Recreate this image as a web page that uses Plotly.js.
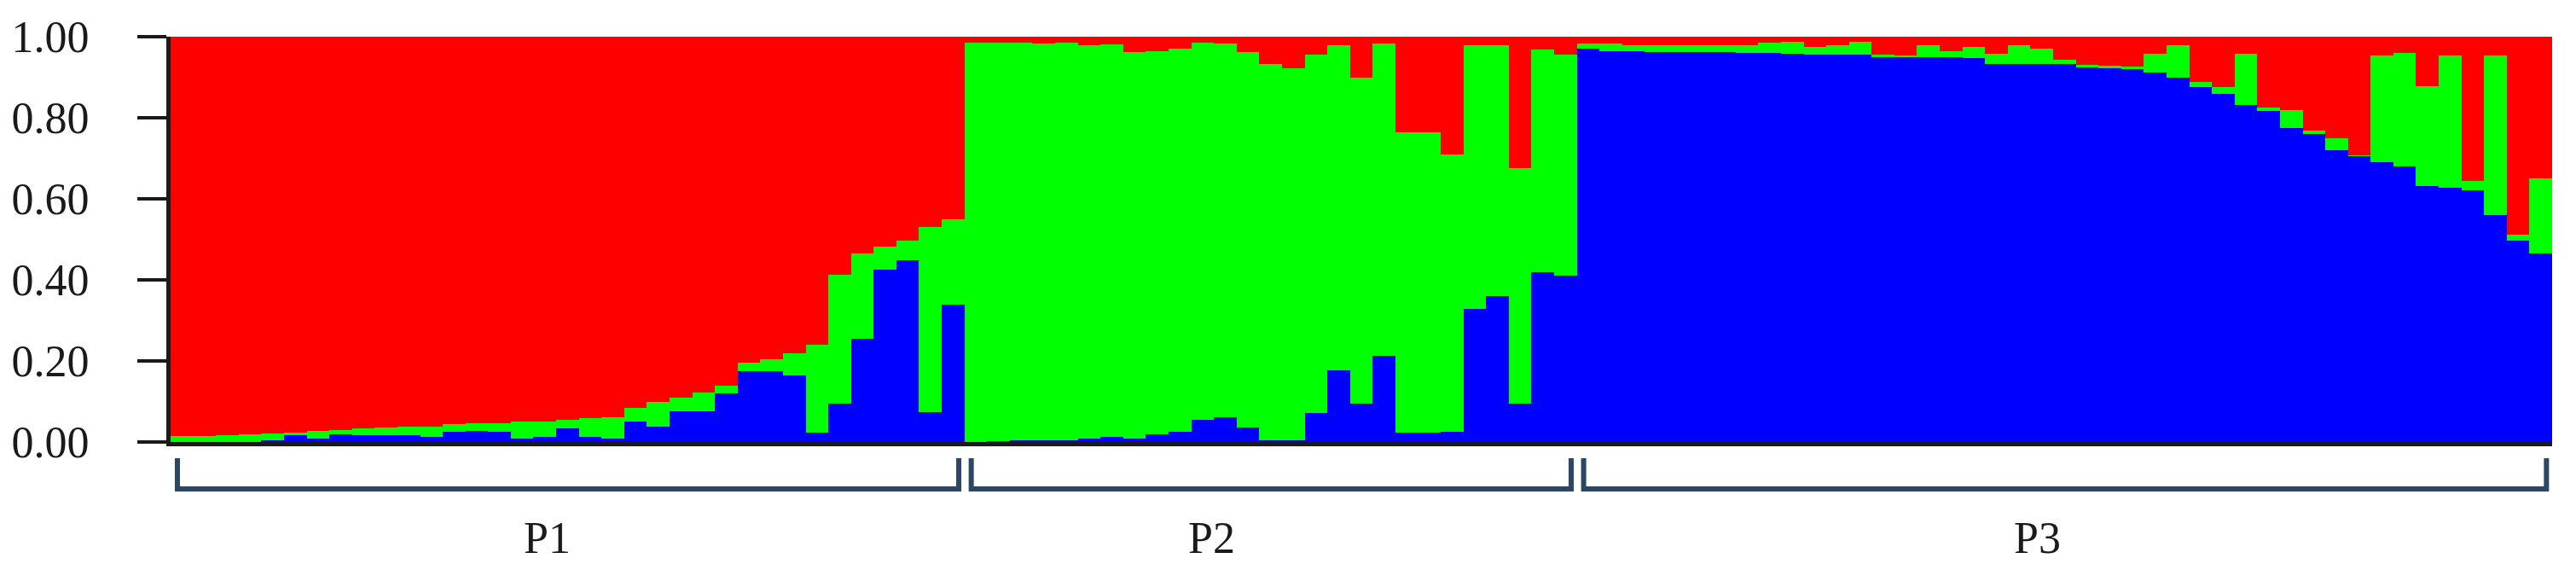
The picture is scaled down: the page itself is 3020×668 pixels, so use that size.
<!DOCTYPE html>
<html>
<head>
<meta charset="utf-8">
<script src="https://cdn.plot.ly/plotly-3.0.1.min.js"></script>
<style>
    body { margin: 0; background: #ffffff; }
    #plot-structure { width: 3020px; height: 668px; }
</style>
</head>
<body>
<div id="plot-structure"></div>
<script>
// Population labels, number of individuals in each, label position (bar index)
var groups = ["P1", "P2", "P3"];
var groupSizes = [35, 27, 43];
var labelPos = [16.1, 45.4, 81.8];

// Membership coefficients, P1
var p1Blue  = [0, 0, 0, 0, 0.005, 0.016, 0.008, 0.02, 0.016, 0.016, 0.016, 0.012, 0.025, 0.027, 0.026, 0.008, 0.012, 0.034, 0.012, 0.008,
               0.05, 0.038, 0.076, 0.076, 0.12, 0.175, 0.175, 0.165, 0.024, 0.095, 0.255, 0.425, 0.448, 0.073, 0.34];
var p1Green = [0.015, 0.015, 0.016, 0.02, 0.016, 0.007, 0.02, 0.009, 0.018, 0.02, 0.021, 0.026, 0.02, 0.019, 0.021, 0.042, 0.038, 0.021, 0.048, 0.054,
               0.035, 0.062, 0.034, 0.046, 0.02, 0.02, 0.03, 0.055, 0.216, 0.318, 0.211, 0.058, 0.049, 0.457, 0.21];
var p1Red   = [0.985, 0.985, 0.984, 0.98, 0.979, 0.977, 0.972, 0.971, 0.966, 0.964, 0.963, 0.962, 0.955, 0.954, 0.953, 0.95, 0.95, 0.945, 0.94, 0.938,
               0.915, 0.9, 0.89, 0.878, 0.86, 0.805, 0.795, 0.78, 0.76, 0.587, 0.534, 0.517, 0.503, 0.47, 0.45];

// Membership coefficients, P2
var p2Blue  = [0, 0.002, 0.005, 0.004, 0.004, 0.008, 0.012, 0.008, 0.018, 0.025, 0.054, 0.062, 0.036, 0.005, 0.005, 0.072, 0.176, 0.095, 0.213, 0.024,
               0.024, 0.025, 0.328, 0.36, 0.095, 0.42, 0.41];
var p2Green = [0.985, 0.983, 0.98, 0.98, 0.982, 0.97, 0.97, 0.954, 0.946, 0.945, 0.932, 0.922, 0.926, 0.928, 0.918, 0.883, 0.802, 0.803, 0.771, 0.74,
               0.74, 0.685, 0.65, 0.62, 0.58, 0.548, 0.546];
var p2Red   = [0.015, 0.015, 0.015, 0.016, 0.014, 0.022, 0.018, 0.038, 0.036, 0.03, 0.014, 0.016, 0.038, 0.067, 0.077, 0.045, 0.022, 0.102, 0.016, 0.236,
               0.236, 0.29, 0.022, 0.02, 0.325, 0.032, 0.044];

// Membership coefficients, P3
var p3Blue  = [0.971, 0.965, 0.964, 0.963, 0.962, 0.962, 0.962, 0.961, 0.96, 0.957, 0.956, 0.955, 0.955, 0.95, 0.95, 0.95, 0.95, 0.948, 0.933, 0.933,
               0.933, 0.932, 0.925, 0.923, 0.92, 0.912, 0.9, 0.876, 0.859, 0.832, 0.817, 0.775, 0.761, 0.719, 0.705, 0.69, 0.68, 0.631, 0.627, 0.622,
               0.561, 0.496, 0.466];
var p3Green = [0.013, 0.018, 0.014, 0.015, 0.016, 0.016, 0.017, 0.019, 0.026, 0.03, 0.019, 0.023, 0.032, 0.005, 0.003, 0.03, 0.015, 0.027, 0.024, 0.045,
               0.038, 0.011, 0.005, 0.005, 0.006, 0.045, 0.078, 0.012, 0.016, 0.125, 0.009, 0.045, 0.007, 0.031, 0.003, 0.264, 0.281, 0.246, 0.327, 0.023,
               0.393, 0.016, 0.184];
var p3Red   = [0.016, 0.017, 0.022, 0.022, 0.022, 0.022, 0.021, 0.02, 0.014, 0.013, 0.025, 0.022, 0.013, 0.045, 0.047, 0.02, 0.035, 0.025, 0.043, 0.022,
               0.029, 0.057, 0.07, 0.072, 0.074, 0.043, 0.022, 0.112, 0.125, 0.043, 0.174, 0.18, 0.232, 0.25, 0.292, 0.046, 0.039, 0.123, 0.046, 0.355,
               0.046, 0.488, 0.35];

// Y axis ticks
var yTicks = [0, 0.2, 0.4, 0.6, 0.8, 1.0];
var yTickText = ["0.00", "0.20", "0.40", "0.60", "0.80", "1.00"];

var serif = "Liberation Serif, Times New Roman, serif";

function createStructurePlot() {

    var blue = p1Blue.concat(p2Blue, p3Blue);
    var green = p1Green.concat(p2Green, p3Green);
    var red = p1Red.concat(p2Red, p3Red);
    var xs = blue.map(function(d, i) { return i; });

    // Trace 1 cluster blue (bottom)
    var trace1 = {
        x: xs,
        y: blue,
        name: "K1",
        type: "bar",
        marker: {color: "#0000FF", line: {width: 0}}
    };

    // Trace 2 cluster green
    var trace2 = {
        x: xs,
        y: green,
        name: "K2",
        type: "bar",
        marker: {color: "#00FF00", line: {width: 0}}
    };

    // Trace 3 cluster red (top)
    var trace3 = {
        x: xs,
        y: red,
        name: "K3",
        type: "bar",
        marker: {color: "#FF0000", line: {width: 0}}
    };

    var data = [trace1, trace2, trace3];

    // brackets and population labels under the bars
    var shapes = [];
    var annotations = [];
    var start = 0;
    for (var g = 0; g < groups.length; g++) {
        var x0 = start - 0.5 + 0.3;
        var x1 = start + groupSizes[g] - 0.5 - 0.25;
        shapes.push({
            type: "path",
            xref: "x",
            yref: "paper",
            path: "M " + x0 + ",-0.04 L " + x0 + ",-0.116 L " + x1 + ",-0.116 L " + x1 + ",-0.04",
            line: {color: "#2B4766", width: 6}
        });
        annotations.push({
            x: labelPos[g],
            y: -0.236,
            xref: "x",
            yref: "paper",
            text: groups[g],
            showarrow: false,
            yanchor: "middle",
            font: {family: serif, size: 52, color: "#1a1a1a"}
        });
        start += groupSizes[g];
    }

    var layout = {
        barmode: "stack",
        bargap: 0,
        showlegend: false,
        plot_bgcolor: "#ffffff",
        paper_bgcolor: "#ffffff",
        xaxis: {
            range: [-0.5, xs.length - 0.5],
            showline: true,
            linecolor: "#1a1a1a",
            linewidth: 5,
            showticklabels: false,
            ticks: "",
            showgrid: false,
            zeroline: false
        },
        yaxis: {
            range: [0, 1],
            tickvals: yTicks,
            ticktext: yTickText,
            ticks: "outside",
            ticklen: 34,
            tickwidth: 4,
            tickcolor: "#1a1a1a",
            ticklabelstandoff: 46,
            showline: true,
            linecolor: "#1a1a1a",
            linewidth: 5,
            showgrid: false,
            zeroline: false,
            tickfont: {family: serif, size: 52, color: "#1a1a1a"}
        },
        shapes: shapes,
        annotations: annotations,
        margin: {
            t: 43, //top margin
            l: 200, //left margin
            r: 28, //right margin
            b: 150 //bottom margin
        }
    };

    Plotly.newPlot("plot-structure", data, layout, {staticPlot: true});
}

createStructurePlot();
</script>
</body>
</html>
